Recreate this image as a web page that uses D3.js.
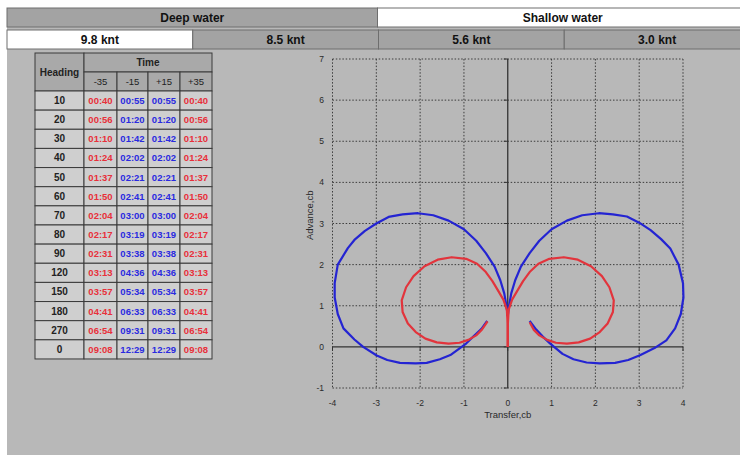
<!DOCTYPE html>
<html>
<head>
<meta charset="utf-8">
<script src="https://cdn.jsdelivr.net/npm/d3@7"></script>
<style>
  html, body { margin: 0; padding: 0; background: #ffffff; }
  svg { display: block; font-family: "Liberation Sans", Arial, sans-serif; }
</style>
</head>
<body>
<svg id="chart" width="740" height="455"></svg>
<script>
// ---------- data ----------
const waterTabs = ["Deep water", "Shallow water"];
const waterActive = 1;
const speedTabs = ["9.8 knt", "8.5 knt", "5.6 knt", "3.0 knt"];
const speedActive = 0;

const rudderLabels = ["-35", "-15", "+15", "+35"];
const headings = [10, 20, 30, 40, 50, 60, 70, 80, 90, 120, 150, 180, 270, 0];
const timeM35 = ["00:40","00:56","01:10","01:24","01:37","01:50","02:04","02:17","02:31","03:13","03:57","04:41","06:54","09:08"];
const timeM15 = ["00:55","01:20","01:42","02:02","02:21","02:41","03:00","03:19","03:38","04:36","05:34","06:33","09:31","12:29"];
const timeP15 = ["00:55","01:20","01:42","02:02","02:21","02:41","03:00","03:19","03:38","04:36","05:34","06:33","09:31","12:29"];
const timeP35 = ["00:40","00:56","01:10","01:24","01:37","01:50","02:04","02:17","02:31","03:13","03:57","04:41","06:54","09:08"];

const xTicks = [-4, -3, -2, -1, 0, 1, 2, 3, 4];
const yTicks = [-1, 0, 1, 2, 3, 4, 5, 6, 7];

// turning circles [transfer, advance]
const redRight = [[0,0],[0,0.5],[0.02,0.9],[0.1,1.15],[0.21,1.35],[0.35,1.6],[0.5,1.82],[0.7,2.02],[0.95,2.14],[1.28,2.18],[1.6,2.12],[1.9,1.96],[2.15,1.72],[2.32,1.45],[2.42,1.13],[2.4,0.85],[2.28,0.57],[2.1,0.36],[1.88,0.2],[1.62,0.11],[1.35,0.08],[1.1,0.1],[0.9,0.17],[0.72,0.28],[0.59,0.42],[0.5,0.6]];
const redLeft = [[0,0],[0,0.5],[-0.02,0.9],[-0.1,1.15],[-0.21,1.35],[-0.35,1.6],[-0.5,1.82],[-0.7,2.02],[-0.95,2.14],[-1.28,2.18],[-1.6,2.12],[-1.9,1.96],[-2.15,1.72],[-2.32,1.45],[-2.42,1.13],[-2.4,0.85],[-2.28,0.57],[-2.1,0.36],[-1.88,0.2],[-1.62,0.11],[-1.35,0.08],[-1.1,0.1],[-0.9,0.17],[-0.72,0.28],[-0.59,0.42],[-0.46,0.62]];
const blueRight = [[0,0.75],[0.03,1.0],[0.08,1.3],[0.17,1.62],[0.3,1.95],[0.5,2.28],[0.72,2.58],[1.0,2.86],[1.35,3.07],[1.7,3.2],[2.08,3.25],[2.4,3.22],[2.72,3.17],[3.0,3.02],[3.26,2.84],[3.5,2.62],[3.71,2.39],[3.9,2.0],[4.0,1.55],[4.01,1.2],[3.95,0.8],[3.82,0.45],[3.62,0.16],[3.35,-0.03],[3.03,-0.2],[2.75,-0.32],[2.45,-0.39],[2.1,-0.4],[1.8,-0.38],[1.5,-0.3],[1.25,-0.17],[0.97,0.08],[0.8,0.25],[0.65,0.42],[0.5,0.63]];
const blueLeft = [[0,0.75],[-0.03,1.0],[-0.08,1.3],[-0.17,1.62],[-0.3,1.95],[-0.5,2.28],[-0.72,2.58],[-1.0,2.86],[-1.35,3.07],[-1.7,3.2],[-2.05,3.25],[-2.4,3.22],[-2.72,3.16],[-3.0,3.0],[-3.26,2.82],[-3.5,2.6],[-3.65,2.4],[-3.88,2.0],[-3.95,1.55],[-3.95,1.2],[-3.88,0.8],[-3.75,0.45],[-3.5,0.18],[-3.3,0.0],[-2.99,-0.21],[-2.75,-0.32],[-2.46,-0.39],[-2.1,-0.4],[-1.85,-0.39],[-1.55,-0.3],[-1.31,-0.2],[-0.95,0.08],[-0.78,0.26],[-0.6,0.44],[-0.47,0.63]];

// ---------- drawing ----------
const svg = d3.select("#chart");
const panelBg = "#b8b8b8";
const tabGray = "#a3a3a3";

// panel
svg.append("rect").attr("x", 7).attr("y", 8).attr("width", 740).attr("height", 460).attr("fill", panelBg);

// water tabs
const waterBand = d3.scaleBand().domain(waterTabs).range([7, 748]);
const wt = svg.append("g");
wt.selectAll("rect").data(waterTabs).join("rect")
  .attr("x", d => waterBand(d)).attr("y", 8)
  .attr("width", waterBand.bandwidth()).attr("height", 19)
  .attr("fill", (d, i) => i === waterActive ? "#ffffff" : tabGray)
  .attr("stroke", "#6e6e6e").attr("stroke-width", 1);
wt.selectAll("text").data(waterTabs).join("text")
  .attr("x", d => waterBand(d) + waterBand.bandwidth() / 2).attr("y", 22)
  .attr("text-anchor", "middle").attr("font-size", 12).attr("font-weight", "bold")
  .attr("fill", "#111").text(d => d);

// speed tabs
const speedBand = d3.scaleBand().domain(speedTabs).range([7, 750]);
const st = svg.append("g");
st.selectAll("rect").data(speedTabs).join("rect")
  .attr("x", d => speedBand(d)).attr("y", 30)
  .attr("width", speedBand.bandwidth()).attr("height", 19)
  .attr("fill", (d, i) => i === speedActive ? "#ffffff" : tabGray)
  .attr("stroke", "#6e6e6e").attr("stroke-width", 1);
st.selectAll("text").data(speedTabs).join("text")
  .attr("x", d => speedBand(d) + speedBand.bandwidth() / 2).attr("y", 44)
  .attr("text-anchor", "middle").attr("font-size", 12).attr("font-weight", "bold")
  .attr("fill", "#111").text(d => d);

// ---------- table ----------
const tbl = svg.append("g");
const colX = [35, 84, 117, 148, 180, 212];
const headTop = 53, headMid = 72, dataTop = 91, rowH = 19.14;
const headFill = "#a9a9a9", cellFill = "#cfcfcf", border = "#3a3a3a";
const rowY = d3.scaleBand().domain(d3.range(headings.length)).range([dataTop, dataTop + rowH * headings.length]);

// header cells
tbl.append("rect").attr("x", colX[0]).attr("y", headTop).attr("width", colX[1] - colX[0]).attr("height", dataTop - headTop)
  .attr("fill", headFill).attr("stroke", border);
tbl.append("rect").attr("x", colX[1]).attr("y", headTop).attr("width", colX[5] - colX[1]).attr("height", headMid - headTop)
  .attr("fill", headFill).attr("stroke", border);
tbl.append("text").attr("x", (colX[0] + colX[1]) / 2).attr("y", (headTop + dataTop) / 2 + 3.5)
  .attr("text-anchor", "middle").attr("font-size", 10).attr("font-weight", "bold").attr("fill", "#222").text("Heading");
tbl.append("text").attr("x", (colX[1] + colX[5]) / 2).attr("y", (headTop + headMid) / 2 + 3.5)
  .attr("text-anchor", "middle").attr("font-size", 10).attr("font-weight", "bold").attr("fill", "#222").text("Time");
rudderLabels.forEach((lab, i) => {
  tbl.append("rect").attr("x", colX[i + 1]).attr("y", headMid).attr("width", colX[i + 2] - colX[i + 1]).attr("height", dataTop - headMid)
    .attr("fill", headFill).attr("stroke", border);
  tbl.append("text").attr("x", (colX[i + 1] + colX[i + 2]) / 2).attr("y", (headMid + dataTop) / 2 + 3.5)
    .attr("text-anchor", "middle").attr("font-size", 9.5).attr("fill", "#222").text(lab);
});

const cols = [
  { vals: headings.map(String), color: "#222" },
  { vals: timeM35, color: "#e8303a" },
  { vals: timeM15, color: "#2a2ae0" },
  { vals: timeP15, color: "#2a2ae0" },
  { vals: timeP35, color: "#e8303a" }
];
cols.forEach((c, ci) => {
  const g = tbl.append("g");
  g.selectAll("rect").data(c.vals).join("rect")
    .attr("x", colX[ci]).attr("y", (d, i) => rowY(i))
    .attr("width", colX[ci + 1] - colX[ci]).attr("height", rowY.bandwidth())
    .attr("fill", cellFill).attr("stroke", border);
  g.selectAll("text").data(c.vals).join("text")
    .attr("x", (colX[ci] + colX[ci + 1]) / 2).attr("y", (d, i) => rowY(i) + rowY.bandwidth() / 2 + 3.5)
    .attr("text-anchor", "middle").attr("font-size", ci === 0 ? 10 : 9.5)
    .attr("font-weight", ci === 0 ? "bold" : 600)
    .attr("fill", c.color).text(d => d);
});

// ---------- plot ----------
const x = d3.scaleLinear().domain([-4, 4]).range([332.5, 683]);
const y = d3.scaleLinear().domain([-1, 7]).range([388, 59]);
const plot = svg.append("g");
const gridColor = "#3c3c3c";

// dotted grid
plot.selectAll("line.gx").data(xTicks.filter(d => d !== 0)).join("line").attr("class", "gx")
  .attr("x1", d => x(d)).attr("x2", d => x(d)).attr("y1", y(7)).attr("y2", y(-1))
  .attr("stroke", gridColor).attr("stroke-width", 1).attr("stroke-dasharray", "1.5,1.8");
plot.selectAll("line.gy").data(yTicks.filter(d => d !== 0)).join("line").attr("class", "gy")
  .attr("x1", x(-4)).attr("x2", x(4)).attr("y1", d => y(d)).attr("y2", d => y(d))
  .attr("stroke", gridColor).attr("stroke-width", 1).attr("stroke-dasharray", "1.5,1.8");

// solid axes through zero
plot.append("line").attr("x1", x(0)).attr("x2", x(0)).attr("y1", y(7)).attr("y2", y(-1))
  .attr("stroke", "#333").attr("stroke-width", 1.3);
plot.append("line").attr("x1", x(-4)).attr("x2", x(4)).attr("y1", y(0)).attr("y2", y(0))
  .attr("stroke", "#333").attr("stroke-width", 1.3);
// small ticks on the zero axes
plot.selectAll("line.tx").data(xTicks).join("line").attr("class", "tx")
  .attr("x1", d => x(d)).attr("x2", d => x(d)).attr("y1", y(0)).attr("y2", y(0) + 4)
  .attr("stroke", "#333").attr("stroke-width", 1);
plot.selectAll("line.ty").data(yTicks).join("line").attr("class", "ty")
  .attr("x1", x(0) - 4).attr("x2", x(0)).attr("y1", d => y(d)).attr("y2", d => y(d))
  .attr("stroke", "#333").attr("stroke-width", 1);

// tick labels
plot.selectAll("text.xl").data(xTicks).join("text").attr("class", "xl")
  .attr("x", d => x(d)).attr("y", 406).attr("text-anchor", "middle")
  .attr("font-size", 8.5).attr("fill", "#2a2a2a").text(d => d);
plot.selectAll("text.yl").data(yTicks).join("text").attr("class", "yl")
  .attr("x", 324).attr("y", d => y(d) + 3).attr("text-anchor", "end")
  .attr("font-size", 8.5).attr("fill", "#2a2a2a").text(d => d);

plot.append("text").attr("x", x(0)).attr("y", 418).attr("text-anchor", "middle")
  .attr("font-size", 9.5).attr("fill", "#2a2a2a").text("Transfer,cb");
plot.append("text").attr("transform", `translate(313,${y(3.2)}) rotate(-90)`).attr("text-anchor", "middle")
  .attr("font-size", 9.5).attr("fill", "#2a2a2a").text("Advance,cb");

// curves
const line = d3.line().x(d => x(d[0])).y(d => y(d[1])).curve(d3.curveLinear);
[blueLeft, blueRight].forEach(s => plot.append("path").datum(s).attr("d", line)
  .attr("fill", "none").attr("stroke", "#2424d2").attr("stroke-width", 2.2).attr("stroke-linejoin", "round"));
[redLeft, redRight].forEach(s => plot.append("path").datum(s).attr("d", line)
  .attr("fill", "none").attr("stroke", "#e2343c").attr("stroke-width", 2.2).attr("stroke-linejoin", "round"));
</script>
</body>
</html>
